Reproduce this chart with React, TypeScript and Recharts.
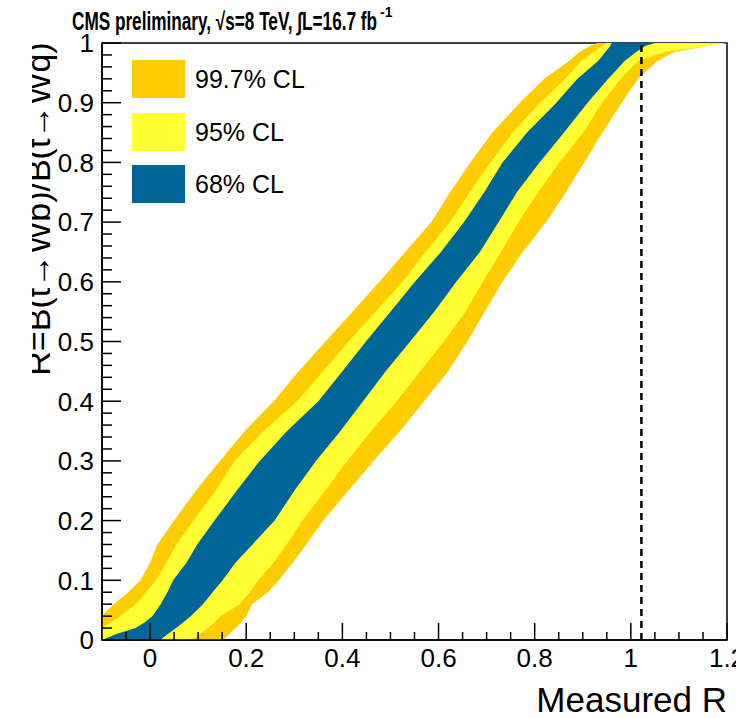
import {
  ComposedChart,
  Area,
  XAxis,
  YAxis,
  ReferenceLine,
  ReferenceArea,
  Legend,
  Customized,
} from "recharts";

const FONT = '"Liberation Sans", Arial, Helvetica, sans-serif';

const trueR = [
  0, 0.01, 0.02, 0.03, 0.04, 0.06, 0.08, 0.1, 0.13, 0.16, 0.2, 0.25, 0.3, 0.35,
  0.4, 0.45, 0.5, 0.55, 0.6, 0.65, 0.7, 0.75, 0.8, 0.85, 0.9, 0.94, 0.97, 0.985,
  0.995, 1,
];

// measured R interval edges, 99.7% CL
const cl997Low = [
  -0.1, -0.1, -0.1, -0.1, -0.1, -0.076, -0.045, -0.02, 0.0, 0.015, 0.05, 0.095,
  0.145, 0.197, 0.257, 0.309, 0.365, 0.421, 0.477, 0.531, 0.585, 0.624, 0.666,
  0.712, 0.769, 0.82, 0.871, 0.893, 0.915, 0.93,
];
const cl997High = [
  0.152, 0.165, 0.178, 0.19, 0.2, 0.212, 0.245, 0.268, 0.297, 0.325, 0.36, 0.412,
  0.465, 0.52, 0.57, 0.62, 0.66, 0.696, 0.733, 0.775, 0.824, 0.865, 0.903, 0.941,
  0.981, 1.015, 1.055, 1.09, 1.16, 1.2,
];

// 95% CL
const cl95Low = [
  -0.1, -0.1, -0.1, -0.08, -0.062, -0.03, -0.008, 0.012, 0.034, 0.055, 0.09,
  0.136, 0.176, 0.236, 0.306, 0.36, 0.413, 0.469, 0.525, 0.573, 0.624, 0.665,
  0.708, 0.754, 0.811, 0.864, 0.897, 0.923, 0.94, 0.95,
];
const cl95High = [
  0.086, 0.104, 0.12, 0.135, 0.147, 0.186, 0.207, 0.225, 0.257, 0.284, 0.317,
  0.364, 0.41, 0.46, 0.513, 0.562, 0.611, 0.656, 0.692, 0.73, 0.766, 0.807,
  0.851, 0.901, 0.94, 0.979, 1.015, 1.07, 1.16, 1.2,
];

// 68% CL
const cl68Low = [
  -0.1, -0.07, -0.03, -0.01, 0.005, 0.022, 0.036, 0.048, 0.076, 0.098, 0.134,
  0.18, 0.228, 0.285, 0.35, 0.4, 0.449, 0.5, 0.551, 0.605, 0.653, 0.695, 0.733,
  0.784, 0.845, 0.889, 0.932, 0.947, 0.957, 0.96,
];
const cl68High = [
  0.021, 0.037, 0.054, 0.07, 0.085, 0.11, 0.13, 0.151, 0.178, 0.213, 0.259, 0.3,
  0.345, 0.396, 0.443, 0.49, 0.541, 0.591, 0.637, 0.686, 0.725, 0.763, 0.81,
  0.861, 0.91, 0.953, 0.987, 1.011, 1.03, 1.05,
];

const measuredR = 1.022;

const xMajorTicks = [0, 0.2, 0.4, 0.6, 0.8, 1, 1.2];
const yMajorTicks = [0, 0.1, 0.2, 0.3, 0.4, 0.5, 0.6, 0.7, 0.8, 0.9, 1];

const BAND_COLORS: Record<string, string> = {
  cl997: "#FFCC00",
  cl95: "#FFFF33",
  cl68: "#00669A",
};
const LEGEND_ORDER = ["cl997", "cl95", "cl68"];

// minor ticks every 0.05 on x and 0.02 on y
const xTicks = Array.from({ length: 26 }, (_, i) => +(-0.05 + i * 0.05).toFixed(2));
const yTicks = Array.from({ length: 51 }, (_, i) => +(i * 0.02).toFixed(2));

const rows = trueR.map((y, i) => ({
  y,
  cl997: [cl997Low[i], cl997High[i]],
  cl95: [cl95Low[i], cl95High[i]],
  cl68: [cl68Low[i], cl68High[i]],
}));

function isMajor(v: number, majors: number[]) {
  return majors.some((m) => Math.abs(m - v) < 1e-6);
}

function XTick(props: any) {
  const { x, y, payload } = props;
  const v = payload.value;
  const major = isMajor(v, xMajorTicks);
  return (
    <g>
      <line x1={x} x2={x} y1={y} y2={y - (major ? 17 : 8)} stroke="#000" strokeWidth={1.5} />
      {major && (
        <text x={x} y={y + 27} textAnchor="middle" fontFamily={FONT} fontSize={26} fill="#000">
          {String(v)}
        </text>
      )}
    </g>
  );
}

function YTick(props: any) {
  const { x, y, payload } = props;
  const v = payload.value;
  const major = isMajor(v, yMajorTicks);
  return (
    <g>
      <line x1={x} x2={x + (major ? 19 : 10)} y1={y} y2={y} stroke="#000" strokeWidth={1.5} />
      {major && (
        <text x={x - 8} y={y + 9.3} textAnchor="end" fontFamily={FONT} fontSize={26} fill="#000">
          {String(v)}
        </text>
      )}
    </g>
  );
}

function BeltLegend(props: any) {
  const items = [...(props.payload || [])].sort(
    (a: any, b: any) => LEGEND_ORDER.indexOf(a.dataKey) - LEGEND_ORDER.indexOf(b.dataKey)
  );
  return (
    <div style={{ fontFamily: FONT }}>
      {items.map((p: any) => (
        <div key={p.value} style={{ display: "flex", height: 52.5 }}>
          <div
            style={{
              width: 53,
              height: 38,
              background: BAND_COLORS[p.dataKey] || p.color,
            }}
          />
          <span
            style={{
              marginLeft: 10,
              fontSize: 25,
              lineHeight: "38px",
              color: "#000",
            }}
          >
            {p.value}
          </span>
        </div>
      ))}
    </div>
  );
}

function Annotations() {
  return (
    <g fontFamily={FONT} fill="#000">
      <text
        x={72}
        y={30}
        fontSize={25}
        fontWeight="bold"
        textLength={305}
        lengthAdjust="spacingAndGlyphs"
      >
        CMS preliminary, √s=8 TeV, ∫L=16.7 fb
      </text>
      <text x={380} y={17} fontSize={14} fontWeight="bold">
        -1
      </text>
      <defs>
        <clipPath id="ylabel-clip">
          <rect x={32} y={0} width={80} height={718} />
        </clipPath>
      </defs>
      <g clipPath="url(#ylabel-clip)">
        <text transform="translate(50,209) rotate(-90)" textAnchor="middle" fontSize={34}>
          R=B(t→Wb)/B(t→Wq)
        </text>
      </g>
      <text x={727} y={712} textAnchor="end" fontSize={35}>
        Measured R
      </text>
    </g>
  );
}

export default function App() {
  return (
    <div style={{ position: "absolute", left: 0, top: 0, width: 736, height: 718, background: "#fff" }}>
      <ComposedChart
        width={736}
        height={718}
        data={rows}
        layout="vertical"
        margin={{ top: 43, right: 9, bottom: 0, left: 0 }}
      >
        <XAxis
          type="number"
          domain={[-0.1, 1.2]}
          ticks={xTicks}
          interval={0}
          allowDataOverflow
          height={78}
          tickSize={0}
          tickMargin={0}
          tickLine={false}
          axisLine={{ stroke: "#000", strokeWidth: 1.5 }}
          tick={<XTick />}
        />
        <YAxis
          type="number"
          dataKey="y"
          domain={[0, 1]}
          ticks={yTicks}
          interval={0}
          reversed
          allowDataOverflow
          width={102}
          tickSize={0}
          tickMargin={0}
          tickLine={false}
          axisLine={{ stroke: "#000", strokeWidth: 1.5 }}
          tick={<YTick />}
        />
        <ReferenceArea
          x1={-0.1}
          x2={1.2}
          y1={0}
          y2={1}
          fill="none"
          fillOpacity={0}
          stroke="#000"
          strokeWidth={1.5}
          ifOverflow="visible"
        />
        <Area
          dataKey="cl997"
          name="99.7% CL"
          type="linear"
          fill={BAND_COLORS.cl997}
          fillOpacity={1}
          stroke="none"
          dot={false}
          activeDot={false}
          isAnimationActive={false}
        />
        <Area
          dataKey="cl95"
          name="95% CL"
          type="linear"
          fill={BAND_COLORS.cl95}
          fillOpacity={1}
          stroke="none"
          dot={false}
          activeDot={false}
          isAnimationActive={false}
        />
        <Area
          dataKey="cl68"
          name="68% CL"
          type="linear"
          fill={BAND_COLORS.cl68}
          fillOpacity={1}
          stroke="none"
          dot={false}
          activeDot={false}
          isAnimationActive={false}
        />
        <ReferenceLine
          x={measuredR}
          stroke="#000"
          strokeWidth={2.5}
          strokeDasharray="7 5"
        />
        <Legend
          layout="vertical"
          align="center"
          verticalAlign="middle"
          content={<BeltLegend />}
          wrapperStyle={{ left: 132, top: 60, width: 220, height: 160 }}
        />
        <Customized component={Annotations} />
      </ComposedChart>
    </div>
  );
}
